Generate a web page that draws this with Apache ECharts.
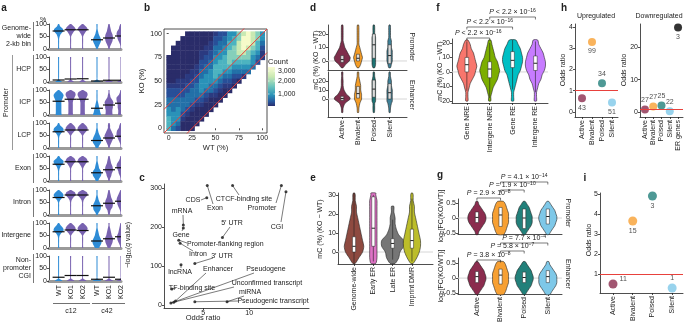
<!DOCTYPE html>
<html>
<head>
<meta charset="utf-8">
<script src="https://cdn.jsdelivr.net/npm/echarts@6/dist/echarts.min.js"></script>
<style>html,body{margin:0;background:#fff}#main{width:685px;height:326px}</style>
</head>
<body>
<div id="main"></div>
<script>
var FONT = '"Liberation Sans", Arial, sans-serif';
var INK = '#222';
var RED = '#e8413c';

// ---------- a : mC per feature, violin profiles (width 0-9 at mC 0,10,...,100) ----------
var aRowNames = ['Genome-\nwide\n2-kb bin', 'HCP', 'ICP', 'LCP', 'Exon', 'Intron', 'Intergene', 'Non-\npromoter\nCGI'];
var aSampleNames = ['WT', 'KO1', 'KO2', 'WT', 'KO1', 'KO2'];
var aCloneNames = ['c12', 'c42'];
var aSampleX = [1, 2, 3, 4.2, 5.2, 6.2];
var aTicks = [0, 50, 100];
var aLevels = [0, 10, 20, 30, 40, 50, 60, 70, 80, 90, 100];
var aShapes = [
  ['00011248830', '00011136961', '00011136961', '13577532110', '12467764321', '11246787431'],
  ['61000000000', '61000000000', '61000000000', '71000000000', '71000000000', '71000000000'],
  ['55555568960', '44444457981', '44444457981', '76543211100', '66677863210', '55566788421'],
  ['00111259830', '00011148961', '00011148961', '24787532110', '12468864221', '11246887431'],
  ['00011248940', '00001136971', '00001136971', '24787432110', '12457764321', '11245787421'],
  ['00001137960', '00001125981', '00001125981', '13677532110', '12367764321', '11246787531'],
  ['00011259840', '00011148961', '00011148961', '36886432110', '24677543211', '12467754321'],
  ['71000000000', '71000000000', '71000000000', '81000000000', '81000000000', '81000000000']
];
var aMedians = [
  [72, 77, 77, 37, 44, 52], [8, 12, 13, 4, 7, 7], [55, 63, 63, 27, 40, 47], [65, 72, 72, 30, 40, 47],
  [67, 77, 77, 33, 45, 53], [70, 80, 80, 37, 47, 55], [65, 72, 70, 28, 37, 45], [15, 22, 22, 7, 15, 7]
];

// ---------- b : KO vs WT density, 5% bins, rows KO=100..0, chars WT=0..100 (level 0-9) ----------
var bTicks = [0, 25, 50, 75, 100];
var bBin = 5;
var bDensityRows = [
  '000011111123355789875',
  '000111111133456799875',
  '001111111234466899864',
  '011111112244567898763',
  '011111122345577887652',
  '111111123355677777542',
  '111111133456676666530',
  '111111234466665555400',
  '111112244566554444000',
  '111122345565443320000',
  '112223355554332100000',
  '222233455443221000000',
  '333334454432110000000',
  '333344443221100000000',
  '444444332111000000000',
  '444443221110000000000',
  '545432111100000000000',
  '555321111000000000000',
  '655211110000000000000',
  '654111100000000000000',
  '643111000000000000000'
];
var bCountTicks = [1000, 2000, 3000];
var bCountRange = [380, 3470];
var bDiagOffsets = [25, 0, -25];

// ---------- c : enrichment of features ----------
var cFeatures = ['CGI', 'Promoter', 'CTCF-binding site', 'Exon', 'CDS', 'mRNA', 'Gene', '5′ UTR',
  'Promoter-flanking region', 'Intron', '3′ UTR', 'lncRNA', 'Enhancer', 'TF-binding site', 'Pseudogene',
  'Unconfirmed transcript', 'miRNA', 'Pseudogenic transcript'];
var cOddsRatio = [14.0, 13.5, 8.2, 5.45, 5.4, 2.85, 2.85, 7.1, 2.35, 2.5, 4.1, 2.6, 2.0, 1.6, 1.8, 1.5, 7.6, 4.1];
var cLogQ = [290, 306, 306, 306, 275, 205, 197, 173, 166, 158, 106, 103, 10, 41, 7, 5, 8, 8];
var cTicksX = [5, 10];
var cTicksY = [0, 100, 200, 300];

// ---------- d : mC change by chromatin state (Promoter / Enhancer facets) ----------
var dStates = ['Active', 'Bivalent', 'Poised', 'Silent'];
var dFacets = ['Promoter', 'Enhancer'];
var dTicks = [0, 10, 20];
var dRanges = [[-6.7, 26.7], [-20, 30]];
var dLevels = [
  [-5, -2.5, 0, 2.5, 5, 7.5, 10, 12.5, 15, 17.5, 20, 22.5, 25, 26.7],
  [-20, -15, -10, -5, -2.5, 0, 2.5, 5, 10, 15, 20, 25, 30]
];
var dShapes = [
  ['14897532111110', '13454321111110', '12222222221110', '12333322211110'],
  ['.013698521100', '.012344433210', '.011222222210', '.012333332210']
];
var dBoxes = [
  [[-1, 1, 4], [0, 2, 5], [2, 12, 20], [-2, 4, 12]],
  [[-1.5, 0.5, 3], [1, 6, 14], [2, 11, 21], [0, 7, 17]]
];

// ---------- e ----------
var eRegions = ['Genome-wide', 'Early ER', 'Late ER', 'Imprint DMR'];
var eTicks = [0, 10, 20, 30];
var eLevels = [-6, -3, 0, 3, 6, 9, 12, 15, 18, 21, 24, 27, 30, 31];
var eShapes = ['14787654322110', '23333333333322', '25699532211...', '14677654322110'];
var eBoxes = [[0, 3, 8], [3, 12.5, 29], [2, 4.5, 7], [2, 6, 12]];
var eWhiskers = [[-6, 31], [-5, 30], [-4, 17], [-5, 28]];

// ---------- f ----------
var fGroups = ['Gene NRE', 'Intergene NRE', 'Gene RE', 'Intergene RE'];
var fTicks = [-20, -10, 0, 10, 20];
var fLevels = [-20, -17, -14, -11, -8, -5, -2, 1, 4, 7, 10, 13, 16, 19, 22];
var fShapes = ['111235789876431', '112357898754321', '111234578998753', '111235689987532'];
var fBoxes = [[0, 5, 10], [-4, 2, 7], [3, 8, 14], [1, 6, 11]];
var fWhiskers = [[-13, 21], [-18, 20], [-12, 22], [-14, 21]];
var fTests = [[0, 1, '2.2', '−16'], [0, 2, '2.2', '−16'], [1, 3, '2.2', '−16']];

// ---------- g : expression change ----------
var gTicks = [-0.5, 0, 0.5];
var gLevels = [-0.55, -0.45, -0.35, -0.25, -0.15, -0.05, 0.05, 0.15, 0.25, 0.35, 0.45, 0.55];
var gShapes = [
  ['124689986421', '356788887653', '135788876531', '135789987531'],
  ['135789987531', '356788887653', '135789987531', '246899986421']
];
var gBoxes = [
  [[-0.15, 0.02, 0.2], [-0.28, 0.1, 0.35], [-0.35, 0, 0.3], [-0.2, 0.05, 0.3]],
  [[-0.15, 0.05, 0.22], [-0.2, 0.1, 0.3], [-0.15, 0.02, 0.2], [-0.15, 0.05, 0.25]]
];
var gTests = [
  [[0, 1, '=', '2.9', '−8'], [1, 2, '=', '1.9', '−10'], [1, 3, '=', '4.1', '−14']],
  [[0, 1, '=', '3.8', '−8'], [1, 2, '=', '5.8', '−7'], [1, 3, '=', '7.7', '−4']]
];

// ---------- h, i : odds ratios ----------
var hUpOR = [0.65, 3.3, 1.35, 0.45];
var hUpN = [43, 99, 34, 51];
var hDownCats = ['Active', 'Bivalent', 'Poised', 'Silent', 'ER genes'];
var hDownOR = [0.8, 1.7, 2.0, 0.3, 26];
var hDownN = [27, 27, 25, 22, 3];
var iOR = [0.5, 3.65, 4.9, 0.3];
var iN = [11, 15, 3, 1];

// ---------- styles ----------
var aColors = ['#2e8cd6', '#7862b0', '#7862b0', '#2e8cd6', '#7862b0', '#7862b0'];
var bPalette = ['#2a2c69', '#2b3a80', '#284f98', '#2270a8', '#2a92b8', '#4cb3c0', '#85cfba', '#c9e9b2', '#f6fbc9'];
var dColors = ['#7e2e4b', '#f39c26', '#1e7474', '#3f8198'];
var eColors = ['#8e4a40', '#dd72c4', '#767676', '#bcbd2a'];
var fColors = ['#f8766d', '#7cae00', '#00bfc4', '#c77cff'];
var sColors = ['#8b2c4e', '#f7a033', '#22807a', '#7ec8e8', '#000000'];

var chart = echarts.init(document.getElementById('main'));
var grids = [], xAxes = [], yAxes = [], series = [];
var axLine = {color: INK, width: 0.8};

function addGrid(rect, xa, ya) {
  var gi = grids.length;
  grids.push(Object.assign({show: false}, rect));
  xa.gridIndex = gi; ya.gridIndex = gi;
  xAxes.push(xa); yAxes.push(ya);
  return gi;
}
function vAxis(min, max, ticks, extra) {
  return Object.assign({
    type: 'value', min: min, max: max, splitLine: {show: false},
    axisLine: {show: true, onZero: false, lineStyle: axLine},
    axisTick: {show: true, length: 2, lineStyle: axLine, customValues: ticks},
    axisLabel: {show: true, fontSize: 7, fontFamily: FONT, color: INK, margin: 2, customValues: ticks}
  }, extra || {});
}
// discrete groups placed on a value axis, labelled with their names
function groupAxis(names, min, max, labels) {
  var idx = indexes(names);
  return {
    type: 'value', min: min, max: max, splitLine: {show: false},
    axisLine: {show: true, onZero: false, lineStyle: axLine},
    axisTick: {show: labels, length: 2, lineStyle: axLine, customValues: idx},
    axisLabel: {show: labels, rotate: 90, fontSize: 7, fontFamily: FONT, color: INK, margin: 3, customValues: idx,
      formatter: function (v) { return names[Math.round(v)]; }}
  };
}
function indexes(arr) { return arr.map(function (n, i) { return i; }); }

// violins drawn through the axes of a grid
function violins(gi, xs, levels, shapes, colors, o) {
  series.push({
    type: 'custom', xAxisIndex: gi, yAxisIndex: gi, clip: !!o.clip, silent: true,
    data: shapes.map(function (s, i) { return [xs[i]]; }),
    renderItem: function (params, api) {
      var i = params.dataIndex, x = xs[i], s = shapes[i], kids = [];
      if (o.zero && i === 0) {
        var cs = params.coordSys, zy = api.coord([x, 0])[1];
        kids.push({type: 'line', shape: {x1: cs.x, y1: zy, x2: cs.x + cs.width, y2: zy},
          style: {stroke: '#d6d6d6', lineWidth: 1}});
      }
      var right = [], left = [];
      for (var k = 0; k < levels.length; k++) {
        var ch = s.charAt(k);
        if (ch === '.') continue;
        var p = api.coord([x, levels[k]]);
        var w = Math.max(o.minHalf, (+ch) / 9 * o.maxHalf);
        right.push([p[0] + w, p[1]]);
        left.unshift([p[0] - w, p[1]]);
      }
      kids.push({type: 'polygon', shape: {points: right.concat(left), smooth: o.smooth || 0},
        style: {fill: colors[i], stroke: o.stroke || null, lineWidth: o.lw || 0}});
      var c0 = api.coord([x, 0])[0];
      if (o.whiskers) {
        var w0 = api.coord([x, o.whiskers[i][0]]), w1 = api.coord([x, o.whiskers[i][1]]);
        kids.push({type: 'line', shape: {x1: c0, y1: w0[1], x2: c0, y2: w1[1]}, style: {stroke: INK, lineWidth: 0.6}});
      }
      if (o.boxes) {
        var b = o.boxes[i], q1 = api.coord([x, b[0]])[1], md = api.coord([x, b[1]])[1], q3 = api.coord([x, b[2]])[1];
        kids.push({type: 'rect', shape: {x: c0 - o.boxHalf, y: q3, width: 2 * o.boxHalf, height: q1 - q3},
          style: {fill: o.boxFill || '#fff', stroke: INK, lineWidth: 0.5}});
        kids.push({type: 'line', shape: {x1: c0 - o.boxHalf, y1: md, x2: c0 + o.boxHalf, y2: md}, style: {stroke: INK, lineWidth: 1}});
      }
      if (o.medians) {
        var my = api.coord([x, o.medians[i]])[1];
        kids.push({type: 'line', shape: {x1: c0 - o.medHalf, y1: my, x2: c0 + o.medHalf, y2: my}, style: {stroke: '#111', lineWidth: 1.2}});
      }
      return {type: 'group', children: kids};
    }
  });
}

// ---- a grids ----
var aTops = [24, 57, 90, 123, 156, 190, 223, 256];
var aGrids = [];
aRowNames.forEach(function (name, r) {
  var gi = addGrid({left: 49, top: aTops[r], width: 72, height: 25},
    {type: 'value', min: 0.2, max: 6.2, splitLine: {show: false}, axisLabel: {show: false}, axisTick: {show: false},
      axisLine: {show: true, onZero: false, lineStyle: {color: '#9a9a9a', width: 3}}},
    vAxis(0, 100, aTicks));
  aGrids.push(gi);
  violins(gi, aSampleX, aLevels, aShapes[r], aColors,
    {maxHalf: 5, minHalf: 0.5, smooth: 0.25, medians: aMedians[r], medHalf: 6, clip: true});
});

// ---- b ----
var gb = addGrid({left: 164, top: 29, width: 103, height: 104, show: true, borderColor: INK, borderWidth: 0.8},
  vAxis(-5, 105, bTicks, {axisLine: {show: false}, name: 'WT (%)', nameLocation: 'middle', nameGap: 11,
    nameTextStyle: {fontSize: 7.5, fontFamily: FONT, color: INK}}),
  vAxis(-5, 105, bTicks, {axisLine: {show: false}, name: 'KO (%)', nameLocation: 'middle', nameGap: 17,
    nameTextStyle: {fontSize: 7.5, fontFamily: FONT, color: INK}}));
var bCells = [];
bDensityRows.forEach(function (row, r) {
  var ko = 100 - r * bBin;
  for (var c = 0; c < row.length; c++) {
    var lv = +row.charAt(c);
    if (lv) bCells.push([c * bBin, ko, lv]);
  }
});
series.push({
  type: 'custom', xAxisIndex: gb, yAxisIndex: gb, clip: true, silent: true, data: bCells,
  renderItem: function (params, api) {
    var cell = bCells[params.dataIndex], x = cell[0], y = cell[1], lv = cell[2];
    var p = api.coord([x - bBin / 2, y + bBin / 2]), q = api.coord([x + bBin / 2, y - bBin / 2]);
    return {type: 'rect', shape: {x: p[0], y: p[1], width: q[0] - p[0] + 0.4, height: q[1] - p[1] + 0.4},
      style: {fill: bPalette[lv - 1]}};
  }
});
bDiagOffsets.forEach(function (off) {
  series.push({type: 'line', xAxisIndex: gb, yAxisIndex: gb, silent: true, symbol: 'none', clip: true,
    data: [[-5, -5 + off], [105, 105 + off]], lineStyle: {color: RED, width: 1}});
});

// ---- c ----
var gc = addGrid({left: 164, top: 184, width: 145, height: 124},
  vAxis(0.75, 16.5, cTicksX), vAxis(-8, 310, cTicksY));
series.push({type: 'scatter', xAxisIndex: gc, yAxisIndex: gc, silent: true, symbolSize: 3,
  itemStyle: {color: '#111'}, data: cOddsRatio.map(function (v, i) { return [v, cLogQ[i]]; })});

// ---- d ----
var dGrids = [];
dFacets.forEach(function (f, k) {
  var gi = addGrid({left: 328, top: k ? 72 : 25, width: 79, height: 45},
    groupAxis(dStates, -0.9, 4.1, k === 1), vAxis(dRanges[k][0], dRanges[k][1], dTicks));
  dGrids.push(gi);
  violins(gi, indexes(dStates), dLevels[k], dShapes[k], dColors,
    {maxHalf: 8, minHalf: 0.6, smooth: 0.25, stroke: INK, lw: 0.6, boxes: dBoxes[k], boxHalf: 1.5, boxFill: '#ddd', zero: true});
});

// ---- e ----
var ge = addGrid({left: 338, top: 193, width: 95, height: 71},
  groupAxis(eRegions, -0.83, 4.09, true), vAxis(-6.3, 31, eTicks));
violins(ge, indexes(eRegions), eLevels, eShapes, eColors,
  {maxHalf: 11, minHalf: 0.6, smooth: 0.25, stroke: INK, lw: 0.6, boxes: eBoxes, boxHalf: 1.6, whiskers: eWhiskers, zero: true});

// ---- f ----
var gf = addGrid({left: 452, top: 39, width: 96, height: 64},
  groupAxis(fGroups, -0.65, 3.55, true), vAxis(-21.4, 22.7, fTicks));
violins(gf, indexes(fGroups), fLevels, fShapes, fColors,
  {maxHalf: 10, minHalf: 0.8, smooth: 0.25, stroke: INK, lw: 0.6, boxes: fBoxes, boxHalf: 1.8, whiskers: fWhiskers, zero: true});

// ---- g ----
var gGrids = [];
[0, 1].forEach(function (k) {
  var gi = addGrid({left: 458, top: k ? 258 : 199, width: 104, height: k ? 36 : 35},
    groupAxis(dStates, -0.8, 3.6, k === 1), vAxis(-0.53, k ? 0.67 : 0.63, gTicks));
  gGrids.push(gi);
  violins(gi, indexes(dStates), gLevels, gShapes[k], sColors,
    {maxHalf: 9, minHalf: 0.6, smooth: 0.25, stroke: INK, lw: 0.6, boxes: gBoxes[k], boxHalf: 1.6, zero: true});
});

// ---- h, i ----
function dots(gi, vals, ns, colors, pos, size) {
  series.push({
    type: 'scatter', xAxisIndex: gi, yAxisIndex: gi, silent: true, symbolSize: size,
    data: vals.map(function (v, i) {
      return {value: [i, v], itemStyle: {color: colors[i]}, label: {position: pos[i]}};
    }),
    label: {show: true, fontSize: 7, fontFamily: FONT, color: INK, distance: 2,
      formatter: function (p) { return ns[p.dataIndex]; }},
    markLine: {silent: true, symbol: ['none', 'none'], label: {show: false},
      lineStyle: {color: RED, width: 1, type: 'solid'}, data: [{yAxis: 1}]},
    z: 3
  });
}
var gh1 = addGrid({left: 575, top: 24, width: 43, height: 93},
  groupAxis(dStates, -0.7, 3.6, true), vAxis(-0.24, 4.15, [0, 1, 2, 3, 4]));
dots(gh1, hUpOR, hUpN, sColors, ['bottom', 'bottom', 'top', 'bottom'], 8);
var gh2 = addGrid({left: 640, top: 24, width: 43, height: 93},
  groupAxis(hDownCats, -0.6, 4.6, true), vAxis(-1.5, 27.1, [0, 10, 20]));
dots(gh2, hDownOR, hDownN, sColors, ['top', 'top', 'top', 'top', 'bottom'], 8);
var gi9 = addGrid({left: 600, top: 193, width: 83, height: 100},
  groupAxis(dStates, -0.66, 3.55, true), vAxis(0.05, 5.05, [1, 2, 3, 4, 5]));
dots(gi9, iOR, iN, sColors, [[11, -4], 'bottom', 'bottom', 'top'], 9);

chart.setOption({animation: false, backgroundColor: '#fff', textStyle: {fontFamily: FONT},
  grid: grids, xAxis: xAxes, yAxis: yAxes, series: series});

// ---------- annotations ----------
var G = [];
function txt(x, y, s, o) {
  o = o || {};
  return {type: 'text', x: x, y: y, rotation: o.rot || 0, silent: true, z: 20,
    style: {text: s, fontSize: o.size || 7, fontFamily: FONT, fontWeight: o.bold ? 'bold' : 'normal',
      fontStyle: o.italic ? 'italic' : 'normal', fill: o.color || INK, align: o.align || 'center',
      verticalAlign: o.va || 'middle', lineHeight: o.lh || 8, rich: o.rich}};
}
function seg(pts, color, w) {
  return {type: 'polyline', silent: true, z: 20, shape: {points: pts}, style: {stroke: color || INK, lineWidth: w || 0.6, fill: null}};
}
var supRich = {i: {fontStyle: 'italic', fontSize: 7, fontFamily: FONT, fill: INK},
  s: {fontSize: 5, fontFamily: FONT, fill: INK, verticalAlign: 'top', lineHeight: 5}};
function px(gi, v) { return chart.convertToPixel({gridIndex: gi}, v); }

// panel letters
[['a', 4, 8], ['b', 147, 8], ['c', 142, 178], ['d', 313, 8], ['e', 313, 178], ['f', 438, 8], ['g', 440, 175], ['h', 564, 8], ['i', 585, 178]]
  .forEach(function (l) { G.push(txt(l[1], l[2], l[0], {size: 10, bold: true})); });

// a
G.push(txt(43, 20, '%'));
aRowNames.forEach(function (n, r) {
  G.push(txt(31, aTops[r] + 12, n, {align: 'right'}));
  G.push(seg([[33.5, aTops[r] - 2], [33.5, aTops[r] + 27]], '#555', 0.8));
});
G.push(seg([[12.5, aTops[1] - 2], [12.5, aTops[3] + 27]], '#999', 1));
G.push(txt(6, (aTops[1] + aTops[3] + 25) / 2, 'Promoter', {rot: Math.PI / 2}));
aSampleNames.forEach(function (n, i) {
  var p = px(aGrids[7], [aSampleX[i], 0]);
  G.push(txt(p[0], 285, n, {rot: Math.PI / 2, align: 'right'}));
});
G.push(seg([[53, 303.5], [90, 303.5]], '#333', 0.7));
G.push(seg([[92, 303.5], [125, 303.5]], '#333', 0.7));
G.push(txt(71, 311, aCloneNames[0]));
G.push(txt(107, 311, aCloneNames[1]));

// b colour bar
var cbTop = 67, cbBot = 106, cbX = 268;
G.push({type: 'rect', silent: true, z: 20, shape: {x: cbX, y: cbTop, width: 7, height: cbBot - cbTop},
  style: {fill: new echarts.graphic.LinearGradient(0, 0, 0, 1, [
    {offset: 0, color: '#fbfdd3'}, {offset: 0.25, color: '#c9e9b2'}, {offset: 0.5, color: '#6cc4bd'},
    {offset: 0.72, color: '#2a92b8'}, {offset: 0.88, color: '#275aa0'}, {offset: 1, color: '#2b2e6e'}])}});
G.push(txt(cbX, 62, 'Count', {align: 'left', size: 7.5}));
var sLo = Math.sqrt(bCountRange[0]), sHi = Math.sqrt(bCountRange[1]);
bCountTicks.forEach(function (c) {
  var y = cbBot - (Math.sqrt(c) - sLo) / (sHi - sLo) * (cbBot - cbTop);
  G.push(seg([[cbX, y], [cbX + 1.5, y]], '#fff', 0.6));
  G.push(seg([[cbX + 5.5, y], [cbX + 7, y]], '#fff', 0.6));
  G.push(txt(cbX + 10, y, c.toLocaleString('en-US'), {align: 'left'}));
});

// c
G.push(txt(128, 245, '−log{s|10}({i|q} value)', {rot: Math.PI / 2, rich: {
  s: {fontSize: 5, fontFamily: FONT, fill: INK, verticalAlign: 'bottom', lineHeight: 9},
  i: {fontStyle: 'italic', fontSize: 7, fontFamily: FONT, fill: INK}}}));
G.push(txt(203, 318, 'Odds ratio', {size: 7.5}));
// label layout: text x, text y, align, leader end x, leader end y
var cLabelLayout = [
  [277, 227, 'center', 281, 222], [262, 208, 'center', 276, 203], [244, 199, 'center', 239, 195],
  [215, 208, 'center', 213, 204], [193, 200, 'center', 201, 200], [182, 211, 'center', 183, 215],
  [181, 235, 'center', 182, 231], [232, 223, 'center', 230, 227], [187, 244, 'left', 187, 243],
  [198, 254, 'center', 193, 251], [222, 256, 'center', 213, 258], [180, 272, 'center', 181, 268],
  [218, 269, 'center', 206, 273], [192, 288, 'center', 176, 288], [266, 269, 'center', 254, 273],
  [267, 283, 'center', 234, 287], [250, 292, 'center', 244, 296], [273, 301, 'center', 239, 301]
];
cFeatures.forEach(function (n, i) {
  var L = cLabelLayout[i], p = px(gc, [cOddsRatio[i], cLogQ[i]]);
  G.push(seg([p, [L[3], L[4]]], INK, 0.6));
  G.push(txt(L[0], L[1], n, {align: L[2], size: 7}));
});

// d/e/f titles
G.push(txt(316, 60, 'mC (%) (KO − WT)', {rot: Math.PI / 2}));
G.push(txt(320, 229, 'mC (%) (KO − WT)', {rot: Math.PI / 2}));
G.push(txt(440, 71, 'mC (%) (KO − WT)', {rot: Math.PI / 2}));
G.push(txt(412, 47, dFacets[0], {rot: -Math.PI / 2}));
G.push(txt(412, 95, dFacets[1], {rot: -Math.PI / 2}));

function bracket(gi, a, b, y, label) {
  var xa = px(gi, [a, 0])[0], xb = px(gi, [b, 0])[0];
  G.push(seg([[xa, y + 2.5], [xa, y], [xb, y], [xb, y + 2.5]], INK, 0.6));
  G.push(txt((xa + xb) / 2, y - 4.5, label, {rich: supRich, lh: 8}));
}
var fBracketY = [38, 27, 17];
fTests.forEach(function (t, k) { bracket(gf, t[0], t[1], fBracketY[k], '{i|P} < ' + t[2] + ' × 10{s|' + t[3] + '}'); });

// g
var gBracketY = [[198, 190, 182], [260, 251, 243]];
gTests.forEach(function (facet, k) {
  facet.forEach(function (t, j) { bracket(gGrids[k], t[0], t[1], gBracketY[k][j], '{i|P} ' + t[2] + ' ' + t[3] + ' × 10{s|' + t[4] + '}'); });
  G.push(txt(441, k ? 276 : 216, 'log{s|2}[FC(KO/WT)]', {rot: Math.PI / 2, rich: {
    s: {fontSize: 5, fontFamily: FONT, fill: INK, verticalAlign: 'bottom', lineHeight: 9}}}));
});
G.push(txt(568, 213, dFacets[0], {rot: -Math.PI / 2}));
G.push(txt(568, 274, dFacets[1], {rot: -Math.PI / 2}));

// h, i
G.push(txt(596, 16, 'Upregulated'));
G.push(txt(659, 16, 'Downregulated'));
G.push(txt(563, 70, 'Odds ratio', {rot: Math.PI / 2}));
G.push(txt(624, 70, 'Odds ratio', {rot: Math.PI / 2}));
G.push(txt(589, 240, 'Odds ratio', {rot: Math.PI / 2}));

chart.setOption({graphic: {elements: G}});
</script>
</body>
</html>
